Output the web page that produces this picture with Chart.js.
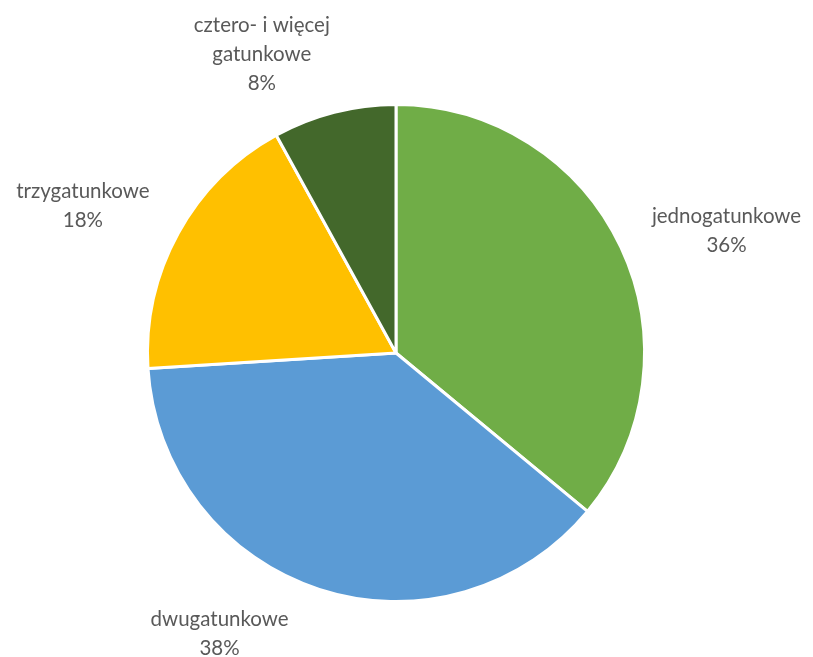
<!DOCTYPE html>
<html>
<head>
<meta charset="utf-8">
<title>Drzewostany wg liczby gatunków</title>
<script src="https://cdn.jsdelivr.net/npm/chart.js@4/dist/chart.umd.min.js"></script>
<style>
    html, body { margin: 0; padding: 0; background: #fff; }
    #wrap { width: 813px; height: 657px; position: relative; }
</style>
</head>
<body>
<div id="wrap"><canvas id="pie-chart"></canvas></div>
<script>
// Chart data
const categories = ['jednogatunkowe', 'dwugatunkowe', 'trzygatunkowe', 'cztero- i więcej gatunkowe'];
const shares = [36, 38, 18, 8];
const sliceColors = ['#70AD47', '#5B9BD5', '#FFC000', '#43682B'];

// How each label is broken into lines
const labelLines = [
    ['jednogatunkowe'],
    ['dwugatunkowe'],
    ['trzygatunkowe'],
    ['cztero- i więcej', 'gatunkowe']
];

// Label anchors, relative to pie centre, in units of the radius
const labelAnchors = [
    [1.33, -0.49],
    [-0.71, 1.13],
    [-1.26, -0.59],
    [-0.54, -1.20]
];

// Draws the outside data labels (category + percent)
const outsideLabels = {
    id: 'outsideLabels',
    afterDatasetsDraw(chart) {
        const ctx = chart.ctx;
        const meta = chart.getDatasetMeta(0);
        const total = shares.reduce((a, b) => a + b, 0);
        const lineHeight = 29;

        ctx.save();
        ctx.font = '20.5px Lato, "Open Sans", sans-serif';
        ctx.fillStyle = '#595959';
        ctx.textAlign = 'center';
        ctx.textBaseline = 'middle';

        meta.data.forEach((arc, i) => {
            const r = arc.outerRadius;
            const cx = arc.x + labelAnchors[i][0] * r;
            const cy = arc.y + labelAnchors[i][1] * r;
            const pct = Math.round(shares[i] / total * 100) + '%';
            const lines = [...labelLines[i], pct];
            const top = cy - (lines.length - 1) * lineHeight / 2;
            lines.forEach((line, k) => {
                ctx.fillText(line, cx, top + k * lineHeight);
            });
        });
        ctx.restore();
    }
};

const pieChart = new Chart(document.getElementById('pie-chart'), {
    type: 'pie',
    data: {
        labels: categories,
        datasets: [{
            data: shares,
            backgroundColor: sliceColors,
            borderColor: '#ffffff',
            borderWidth: 3
        }]
    },
    options: {
        responsive: true,
        maintainAspectRatio: false,
        animation: false,
        layout: {
            padding: { top: 103, bottom: 54, left: 146, right: 167 }
        },
        plugins: {
            legend: { display: false },
            tooltip: { enabled: false }
        }
    },
    plugins: [outsideLabels]
});
</script>
</body>
</html>
